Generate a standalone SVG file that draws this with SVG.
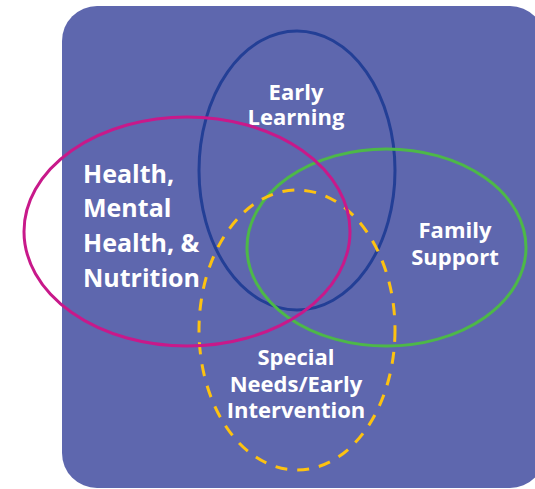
<svg xmlns="http://www.w3.org/2000/svg" width="535" height="489" viewBox="0 0 535 489">
  <style>
    .lbl { font-family: "Open Sans", "Noto Sans", "Liberation Sans", sans-serif; font-weight: bold; fill: #ffffff; }
    .big { font-size: 25px; }
    .med { font-size: 22px; }
    .ring { fill: none; stroke-width: 3; }
  </style>
  <rect id="background" x="62" y="6" width="483" height="482" rx="35" ry="35" fill="#5e67ae"/>
  <g id="connectors"></g>
  <g id="early-learning">
    <ellipse class="ring" cx="297" cy="170.5" rx="98" ry="139.5" stroke="#233f96"/>
    <text class="lbl med" text-anchor="middle" x="296" y="100">Early</text>
    <text class="lbl med" text-anchor="middle" x="296" y="125">Learning</text>
  </g>
  <g id="family-support">
    <ellipse class="ring" cx="386.5" cy="247.5" rx="139.5" ry="98.5" stroke="#4db848"/>
    <text class="lbl med" text-anchor="middle" x="455" y="238">Family</text>
    <text class="lbl med" text-anchor="middle" x="455" y="265">Support</text>
  </g>
  <g id="special-needs">
    <ellipse class="ring" cx="297" cy="330" rx="98" ry="140" stroke="#fdc210" stroke-dasharray="12 10"/>
    <text class="lbl med" text-anchor="middle" x="296" y="365">Special</text>
    <text class="lbl med" text-anchor="middle" x="296" y="392">Needs/Early</text>
    <text class="lbl med" text-anchor="middle" x="296" y="418">Intervention</text>
  </g>
  <g id="health">
    <ellipse class="ring" cx="187" cy="231.5" rx="163" ry="114.5" stroke="#c8198a"/>
    <text class="lbl big" x="83" y="183">Health,</text>
    <text class="lbl big" x="83" y="217">Mental</text>
    <text class="lbl big" x="83" y="252">Health, &amp;</text>
    <text class="lbl big" x="83" y="287">Nutrition</text>
  </g>
</svg>
